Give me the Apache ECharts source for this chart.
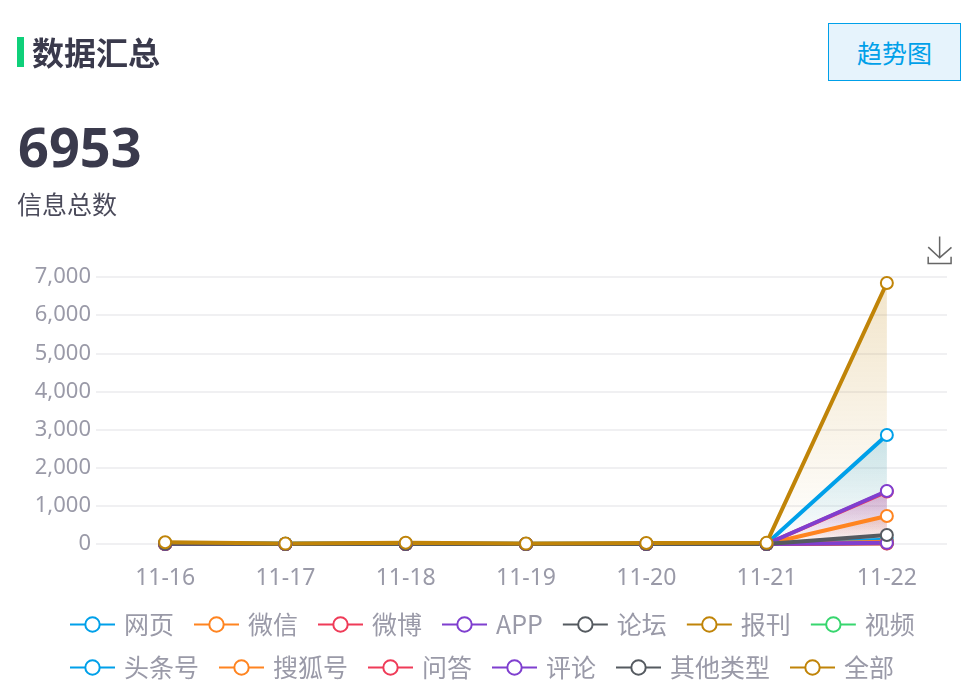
<!DOCTYPE html>
<html>
<head>
<meta charset="utf-8">
<title>数据汇总</title>
<script src="https://cdn.jsdelivr.net/npm/echarts@6/dist/echarts.min.js"></script>
<style>
html, body { margin: 0; padding: 0; background: #fff; }
body { width: 977px; height: 692px; position: relative; overflow: hidden; font-family: "Noto Sans CJK SC", "Noto Sans", sans-serif; color: #3a3a4c; }
#chart { position: absolute; left: 0; top: 0; width: 977px; height: 692px; }
.bar { position: absolute; left: 17px; top: 37px; width: 7px; height: 30px; background: #0fd07a; }
.title { position: absolute; left: 32px; top: 28px; font-size: 32px; line-height: 46px; font-weight: 700; }
.btn { position: absolute; left: 828px; top: 23px; width: 131px; height: 56px; line-height: 56px; text-align: center; font-size: 25px; color: #00a0e9; background: #e6f3fc; border: 1px solid #00a0e9; }
.total { position: absolute; left: 18px; top: 109px; font-size: 54px; line-height: 74px; font-weight: 700; font-family: "Noto Sans", sans-serif; }
.sub { position: absolute; left: 17px; top: 185px; font-size: 25px; line-height: 36px; color: #4a4a5a; }
</style>
</head>
<body>
<div id="chart"></div>
<div class="bar"></div>
<div class="title">数据汇总</div>
<div class="btn">趋势图</div>
<div class="total">6953</div>
<div class="sub">信息总数</div>
<script>
var days = ['11-16', '11-17', '11-18', '11-19', '11-20', '11-21', '11-22'];
var names = ['网页', '微信', '微博', 'APP', '论坛', '报刊', '视频', '头条号', '搜狐号', '问答', '评论', '其他类型', '全部'];
var colors = ['#00a0e9', '#ff8420', '#ef3b58', '#7f3fcf', '#555a60', '#c08408', '#37d66e', '#00a0e9', '#ff8420', '#ef3b58', '#7f3fcf', '#555a60', '#c08408'];
var yTicks = [0, 1000, 2000, 3000, 4000, 5000, 6000, 7000];

var webpage = [25, 5, 15, 5, 5, 5, 2858];
var wechat = [5, 0, 5, 0, 0, 0, 734];
var weibo = [0, 0, 0, 0, 0, 0, 1375];
var app = [5, 0, 5, 0, 0, 0, 1390];
var forum = [0, 0, 0, 0, 0, 0, 30];
var paper = [0, 0, 0, 0, 0, 0, 40];
var video = [0, 0, 0, 0, 0, 0, 20];
var toutiao = [5, 5, 5, 0, 5, 5, 110];
var sohu = [0, 0, 0, 0, 0, 0, 60];
var wenda = [0, 0, 0, 0, 0, 0, 10];
var comment = [0, 0, 0, 0, 0, 0, 30];
var other = [5, 0, 0, 0, 0, 0, 236];
var all = [45, 10, 35, 10, 25, 30, 6843];
var values = [webpage, wechat, weibo, app, forum, paper, video, toutiao, sohu, wenda, comment, other, all];

function hexToRgba(hex, a) {
    var n = parseInt(hex.slice(1), 16);
    return 'rgba(' + (n >> 16) + ',' + ((n >> 8) & 255) + ',' + (n & 255) + ',' + a + ')';
}

var series = [];
for (var i = 0; i < names.length; i++) {
    series.push({
        name: names[i],
        type: 'line',
        data: values[i],
        symbol: 'circle',
        symbolSize: 12,
        showAllSymbol: true,
        lineStyle: { color: colors[i], width: 4 },
        itemStyle: { color: '#fff', borderColor: colors[i], borderWidth: 2 },
        areaStyle: {
            color: new echarts.graphic.LinearGradient(0, 0, 0, 1, [
                { offset: 0, color: hexToRgba(colors[i], 0.3) },
                { offset: 1, color: hexToRgba(colors[i], 0) }
            ])
        }
    });
}

var labelFont = '"Noto Sans", sans-serif';
var myChart = echarts.init(document.getElementById('chart'));
var option = {
    animation: false,
    color: colors,
    textStyle: { fontFamily: '"Noto Sans CJK SC", "Noto Sans", sans-serif' },
    grid: { left: 105, right: 30, top: 277, height: 267 },
    toolbox: {
        right: 8,
        top: 219,
        itemSize: 27,
        iconStyle: { borderColor: '#666', borderWidth: 1.5, color: 'none' },
        feature: { saveAsImage: { title: '' } }
    },
    legend: {
        data: names,
        left: 64,
        top: 607,
        width: 900,
        itemWidth: 45,
        itemHeight: 18,
        itemGap: 18,
        lineStyle: { width: 2 },
        textStyle: { fontSize: 25, lineHeight: 24, color: '#9a9aa8', padding: [0, 1, 0, 4] }
    },
    xAxis: {
        type: 'category',
        data: days,
        axisLine: { show: false },
        axisTick: { show: true, alignWithLabel: true, length: 7, lineStyle: { color: '#f0f0f2', width: 2 } },
        axisLabel: { fontSize: 23, fontFamily: labelFont, color: '#9a9aa8', margin: 23 }
    },
    yAxis: {
        type: 'value',
        min: 0,
        max: yTicks[yTicks.length - 1],
        interval: 1000,
        axisLine: { show: false },
        axisTick: { show: true, length: 9, lineStyle: { color: '#f0f0f2', width: 2 } },
        axisLabel: { fontSize: 22, fontFamily: labelFont, color: '#9a9aa8', margin: 14, padding: [0, 0, 6, 0] },
        splitLine: { lineStyle: { color: '#f0f0f2', width: 2 } }
    },
    series: series
};
myChart.setOption(option);
</script>
</body>
</html>
